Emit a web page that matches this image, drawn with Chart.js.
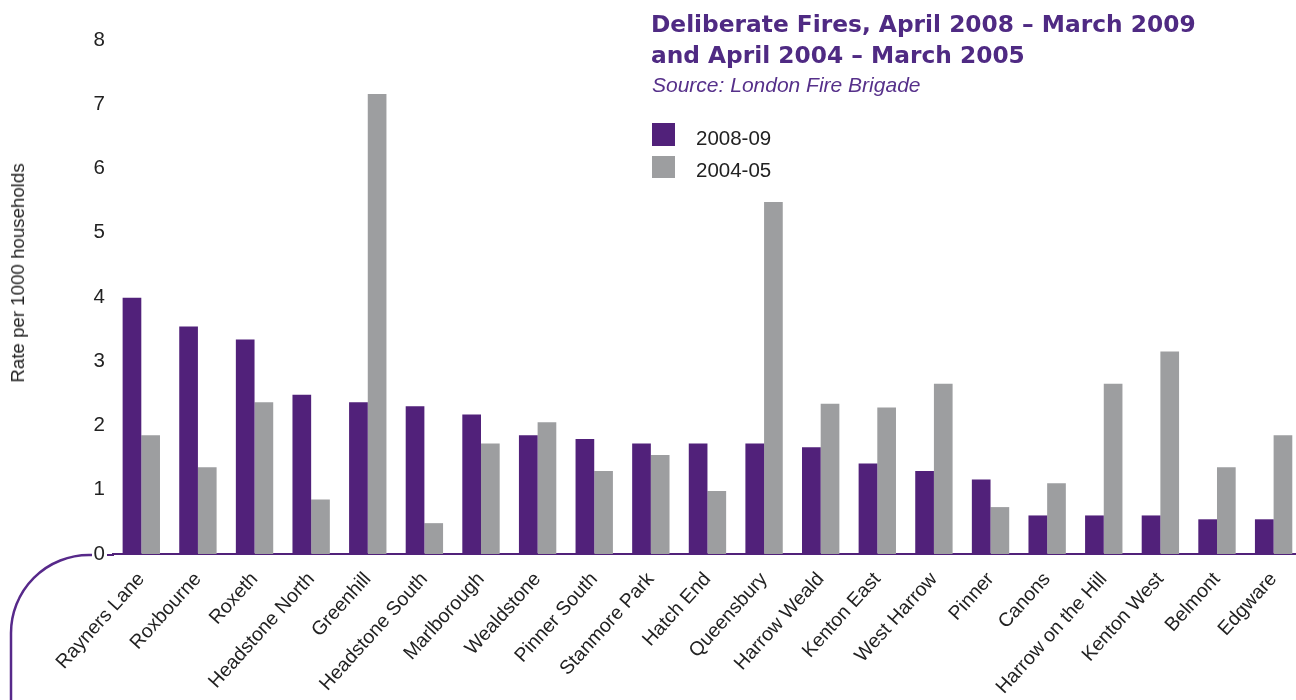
<!DOCTYPE html>
<html lang="en">
<head>
  <meta charset="UTF-8">
  <title>Deliberate Fires</title>
  <script src="https://cdn.jsdelivr.net/npm/chart.js"></script>
  <style>
    html, body { margin: 0; padding: 0; background: #fff; overflow: hidden; }
    #wrap { position: relative; width: 1296px; height: 700px; overflow: hidden; font-family: "Liberation Sans", Arial, sans-serif; }
    #chart { position: absolute; left: 0; top: 0; }
    #title { position: absolute; left: 651px; top: 7.8px; color: #4f2a83; font-family: "DejaVu Sans", sans-serif; font-weight: bold; font-size: 23.3px; line-height: 31.6px; white-space: nowrap; }
    #source { position: absolute; left: 652px; top: 73.4px; color: #56308a; font-style: italic; font-size: 21px; line-height: 24px; white-space: nowrap; }
    #legend { position: absolute; left: 652px; top: 123.3px; }
    .item { position: relative; height: 32.7px; }
    .box { position: absolute; left: 0; top: 0; width: 23px; height: 22.5px; }
    .lbl { position: absolute; left: 44px; top: 2.5px; font-size: 20.5px; line-height: 24px; color: #222; white-space: nowrap; }
    #ytitle { position: absolute; left: 18px; top: 273px; transform: translate(-50%, -50%) rotate(-90deg); font-size: 18.7px; color: #222; white-space: nowrap; }
  </style>
</head>
<body>
<div id="wrap">
  <canvas id="chart" width="1305" height="700"></canvas>
  <div id="title">Deliberate Fires, April 2008 – March 2009<br>and April 2004 – March 2005</div>
  <div id="source">Source: London Fire Brigade</div>
  <div id="legend"></div>
  <div id="ytitle">Rate per 1000 households</div>
</div>
<script>
  const wards = ['Rayners Lane', 'Roxbourne', 'Roxeth', 'Headstone North', 'Greenhill',
    'Headstone South', 'Marlborough', 'Wealdstone', 'Pinner South', 'Stanmore Park',
    'Hatch End', 'Queensbury', 'Harrow Weald', 'Kenton East', 'West Harrow', 'Pinner',
    'Canons', 'Harrow on the Hill', 'Kenton West', 'Belmont', 'Edgware'];
  const rate0809 = [3.99, 3.54, 3.34, 2.48, 2.36, 2.30, 2.17, 1.85, 1.79, 1.72, 1.72,
    1.72, 1.66, 1.41, 1.29, 1.16, 0.60, 0.60, 0.60, 0.54, 0.54];
  const rate0405 = [1.85, 1.35, 2.36, 0.85, 7.16, 0.48, 1.72, 2.05, 1.29, 1.54, 0.98,
    5.48, 2.34, 2.28, 2.65, 0.73, 1.10, 2.65, 3.15, 1.35, 1.85];
  const seriesNames = ['2008-09', '2004-05'];
  const yTicks = [0, 1, 2, 3, 4, 5, 6, 7, 8];

  const PURPLE = '#51217a';
  const GREY = '#9d9ea0';
  const FONT = '"Liberation Sans", Arial, sans-serif';

  // decorative curve at the bottom left + axis stub
  const curvePlugin = {
    id: 'curve',
    afterDraw(chart) {
      const ctx = chart.ctx;
      const y0 = chart.scales.y.getPixelForValue(0) + 1;
      ctx.save();
      ctx.strokeStyle = '#57298a';
      ctx.lineWidth = 2.5;
      ctx.beginPath();
      ctx.moveTo(92, y0);
      ctx.arcTo(11, y0, 11, 700, 78);
      ctx.lineTo(11, 705);
      ctx.stroke();
      ctx.lineWidth = 2;
      ctx.strokeStyle = PURPLE;
      ctx.beginPath();
      ctx.moveTo(107, y0);
      ctx.lineTo(chart.chartArea.left + 1, y0);
      ctx.stroke();
      ctx.restore();
    }
  };

  const chart = new Chart(document.getElementById('chart'), {
    type: 'bar',
    data: {
      labels: wards,
      datasets: [
        { label: seriesNames[0], data: rate0809, backgroundColor: PURPLE },
        { label: seriesNames[1], data: rate0405, backgroundColor: GREY }
      ]
    },
    options: {
      responsive: false,
      animation: false,
      layout: { padding: { top: 40, left: 0, right: 0, bottom: 0 } },
      datasets: { bar: { categoryPercentage: 0.66, barPercentage: 1.0 } },
      plugins: { legend: { display: false }, tooltip: { enabled: false } },
      scales: {
        x: {
          grid: { display: false, drawTicks: false },
          border: { display: true, color: PURPLE, width: 2 },
          ticks: {
            autoSkip: false, minRotation: 48, maxRotation: 48, padding: 14,
            color: '#222', font: { family: FONT, size: 19.5 }
          },
          afterFit(scale) { scale.height = 146; }
        },
        y: {
          min: 0, max: 8,
          grid: { display: false, drawTicks: false },
          border: { display: false },
          afterBuildTicks(scale) { scale.ticks = yTicks.map(v => ({ value: v })); },
          ticks: { padding: 8, color: '#222', font: { family: FONT, size: 20.5 } },
          afterFit(scale) { scale.width = 113; }
        }
      }
    },
    plugins: [curvePlugin]
  });

  const legend = document.getElementById('legend');
  chart.data.datasets.forEach(ds => {
    const item = document.createElement('div');
    item.className = 'item';
    item.innerHTML = '<div class="box" style="background:' + ds.backgroundColor + '"></div><div class="lbl">' + ds.label + '</div>';
    legend.appendChild(item);
  });
</script>
</body>
</html>
